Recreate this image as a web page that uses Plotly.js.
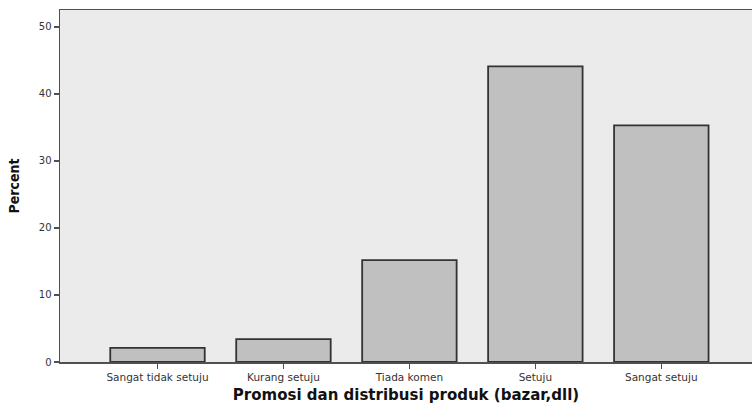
<!DOCTYPE html>
<html>
<head>
<meta charset="utf-8">
<script src="https://cdn.plot.ly/plotly-3.0.1.min.js"></script>
<style>html,body{margin:0;padding:0;background:#fff;}#chart{width:752px;height:404px;}</style>
</head>
<body>
<div id="chart"></div>
<script>
var categories = ["Sangat tidak setuju", "Kurang setuju", "Tiada komen", "Setuju", "Sangat setuju"];
var percents = [2.1, 3.4, 15.2, 44.1, 35.3];
var yTicks = [0, 10, 20, 30, 40, 50];

var trace = {
  type: 'bar',
  x: categories,
  y: percents,
  width: 0.75,
  marker: {color: '#c0c0c0', line: {color: '#333333', width: 1.8}},
  hoverinfo: 'skip'
};

var layout = {
  width: 752, height: 404,
  margin: {l: 60, r: 0, t: 10, b: 42},
  paper_bgcolor: '#ffffff',
  plot_bgcolor: '#ebebeb',
  showlegend: false,
  xaxis: {
    type: 'category',
    range: [-0.774, 4.72],
    showline: true, linecolor: '#505050', linewidth: 1.5, mirror: true,
    ticks: 'outside', ticklen: 5, tickcolor: '#505050', tickwidth: 1.5,
    showgrid: false, zeroline: false,
    tickfont: {family: 'DejaVu Sans, Verdana, sans-serif', size: 10.5, color: '#333'},
    title: {text: '<b>Promosi dan distribusi produk (bazar,dll)</b>', standoff: 7,
            font: {family: 'DejaVu Sans, Verdana, sans-serif', size: 15, color: '#111'}}
  },
  yaxis: {
    range: [0, 52.5],
    tickvals: yTicks,
    showline: true, linecolor: '#505050', linewidth: 1.5,
    ticks: 'outside', ticklen: 5, tickcolor: '#505050', tickwidth: 1.5,
    showgrid: false, zeroline: false,
    tickfont: {family: 'DejaVu Sans, Verdana, sans-serif', size: 10, color: '#333'},
    title: {text: '<b>Percent</b>', standoff: 16,
            font: {family: 'Liberation Sans Narrow, DejaVu Sans Condensed, Arial Narrow, sans-serif', size: 14, color: '#111'}}
  }
};

Plotly.newPlot('chart', [trace], layout, {staticPlot: true, displayModeBar: false});
</script>
</body>
</html>
